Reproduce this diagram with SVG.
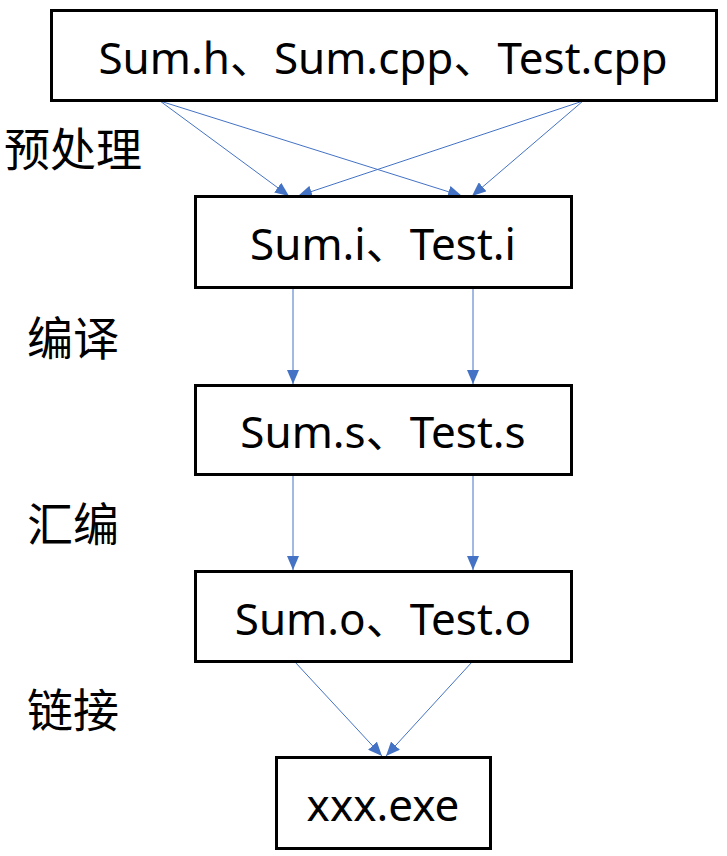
<svg xmlns="http://www.w3.org/2000/svg" width="727" height="856" viewBox="0 0 727 856">
<defs>
<marker id="ah" viewBox="0 0 14 12" refX="14" refY="6" markerWidth="14" markerHeight="12" markerUnits="userSpaceOnUse" orient="auto">
<path d="M0,0 L14,6 L0,12 Z" fill="#4472C4"/>
</marker>
<style>
.box{fill:#fff;stroke:#000;stroke-width:3}
.t{font-family:"Noto Sans","Noto Sans CJK SC",sans-serif;font-size:44px;fill:#000;text-anchor:middle}
.lbl{font-family:"Noto Sans CJK SC",sans-serif;font-size:46px;fill:#000}
.c{stroke:#4472C4;stroke-width:1;fill:none;marker-end:url(#ah)}
</style>
</defs>
<rect width="727" height="856" fill="#fff"/>
<g id="connectors">
<line class="c" x1="160" y1="101" x2="289" y2="196"/>
<line class="c" x1="160" y1="101" x2="462" y2="196"/>
<line class="c" x1="583" y1="101" x2="298" y2="196"/>
<line class="c" x1="583" y1="101" x2="472" y2="196"/>
<line class="c" x1="293" y1="289" x2="293" y2="384"/>
<line class="c" x1="473" y1="289" x2="473" y2="384"/>
<line class="c" x1="293" y1="475" x2="293" y2="570"/>
<line class="c" x1="473" y1="475" x2="473" y2="570"/>
<line class="c" x1="295" y1="662" x2="382" y2="756"/>
<line class="c" x1="472" y1="662" x2="386" y2="756"/>
</g>
<g id="src"><rect class="box" x="51.5" y="10.5" width="665" height="90"/><text class="t" x="383" y="74">Sum.h、Sum.cpp、Test.cpp</text></g>
<g id="pre"><rect class="box" x="195.5" y="196.5" width="376" height="91"/><text class="t" x="383" y="260">Sum.i、Test.i</text></g>
<g id="asm"><rect class="box" x="195.5" y="385.5" width="376" height="89"/><text class="t" x="383" y="448">Sum.s、Test.s</text></g>
<g id="obj"><rect class="box" x="195.5" y="571.5" width="376" height="90"/><text class="t" x="383" y="635">Sum.o、Test.o</text></g>
<g id="exe"><rect class="box" x="276.5" y="757.5" width="214" height="91"/><text class="t" x="383" y="821">xxx.exe</text></g>
<g id="labels">
<text class="lbl" x="4" y="166">预处理</text>
<text class="lbl" x="27" y="355">编译</text>
<text class="lbl" x="27" y="541">汇编</text>
<text class="lbl" x="27" y="727">链接</text>
</g>
</svg>
